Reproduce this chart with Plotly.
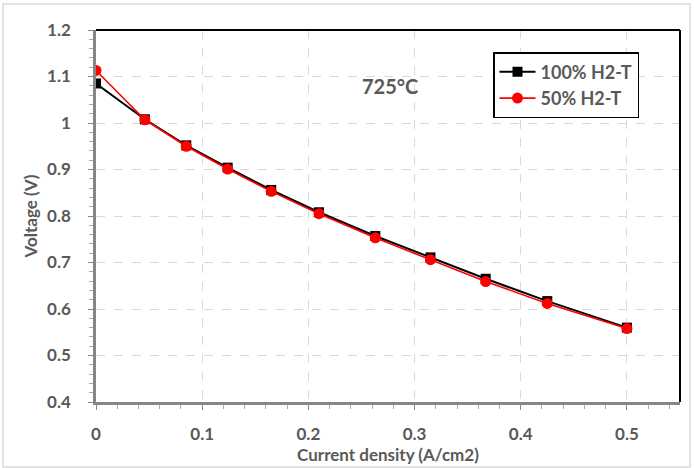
import plotly.graph_objects as go

current_density = [0.0, 0.046, 0.085, 0.124, 0.165, 0.21, 0.263, 0.315, 0.367, 0.425, 0.5]
v_100_h2 = [1.085, 1.008, 0.952, 0.904, 0.856, 0.808, 0.757, 0.711, 0.665, 0.617, 0.560]
v_50_h2 = [1.113, 1.007, 0.950, 0.901, 0.853, 0.805, 0.753, 0.706, 0.659, 0.612, 0.558]

x_ticks = [0, 0.1, 0.2, 0.3, 0.4, 0.5]
x_tick_text = ["0", "0.1", "0.2", "0.3", "0.4", "0.5"]
y_ticks = [0.4, 0.5, 0.6, 0.7, 0.8, 0.9, 1.0, 1.1, 1.2]
y_tick_text = ["0.4", "0.5", "0.6", "0.7", "0.8", "0.9", "1", "1.1", "1.2"]

FONT = "Lato, 'Open Sans', sans-serif"
GRAY = "#595959"

fig = go.Figure()
fig.add_trace(go.Scatter(
    x=current_density, y=v_100_h2, name="100% H2-T", mode="lines+markers",
    line=dict(color="black", width=2),
    marker=dict(symbol="square", size=10, color="black"),
))
fig.add_trace(go.Scatter(
    x=current_density, y=v_50_h2, name="50% H2-T", mode="lines+markers",
    line=dict(color="#ff0000", width=1.6),
    marker=dict(symbol="circle", size=11, color="#ff0000"),
))

W, H = 694, 468
L, R, T, B = 96, 14, 30, 66
pw, ph = W - L - R, H - T - B

def px(x):
    return (x - L) / pw

def py(y):
    return 1 - (y - T) / ph

tick_font = dict(family=FONT, size=17, color=GRAY, weight="bold")
title_font = dict(family=FONT, size=17, color=GRAY, weight="bold")

fig.update_layout(
    width=W, height=H,
    margin=dict(l=L, r=R, t=T, b=B),
    paper_bgcolor="white", plot_bgcolor="white",
    font=dict(family=FONT, color=GRAY, size=16),
    showlegend=True,
    legend=dict(
        x=px(493), y=py(52), xanchor="left", yanchor="top",
        bordercolor="black", borderwidth=1.5, bgcolor="white",
        font=dict(family=FONT, size=18, color=GRAY, weight="bold"),
        itemwidth=36, tracegroupgap=2,
    ),
    xaxis=dict(
        range=[0, 0.55], tickvals=x_ticks, ticktext=x_tick_text,
        showgrid=True, gridcolor="#d9d9d9", griddash="dash", gridwidth=1,
        showline=True, linecolor="#868686", linewidth=2.5,
        ticks="outside", ticklen=5, tickcolor="#868686", tickwidth=1,
        minor=dict(dtick=0.02, ticks="outside", ticklen=4, tickcolor="#a6a6a6", showgrid=False),
        zeroline=False, ticklabelstandoff=10, automargin=False,
        tickfont=tick_font,
        title=dict(text="Current density (A/cm2)", font=title_font, standoff=6),
    ),
    yaxis=dict(
        range=[0.4, 1.2], tickvals=y_ticks, ticktext=y_tick_text,
        showgrid=True, gridcolor="#d9d9d9", griddash="dash", gridwidth=1,
        showline=True, linecolor="#868686", linewidth=2.5,
        ticks="outside", ticklen=5, tickcolor="#868686", tickwidth=1,
        minor=dict(dtick=0.02, ticks="outside", ticklen=4, tickcolor="#a6a6a6", showgrid=False),
        zeroline=False, ticklabelstandoff=14, automargin=False,
        tickfont=tick_font,
        title=dict(text="Voltage (V)", font=title_font, standoff=6),
    ),
    annotations=[dict(
        text="<b>725°C</b>", x=px(390), y=py(72), xref="paper", yref="paper",
        showarrow=False, font=dict(family=FONT, size=20, color=GRAY),
    )],
    shapes=[
        dict(type="line", xref="paper", yref="paper", x0=0, x1=1, y0=1, y1=1, line=dict(color="black", width=2)),
        dict(type="line", xref="paper", yref="paper", x0=1, x1=1, y0=0, y1=1, line=dict(color="black", width=2)),
        dict(type="rect", xref="paper", yref="paper", x0=px(3), x1=px(690), y0=py(4), y1=py(467),
             line=dict(color="#d9d9d9", width=1.5), layer="below"),
    ],
)

fig.write_html("out.html")
